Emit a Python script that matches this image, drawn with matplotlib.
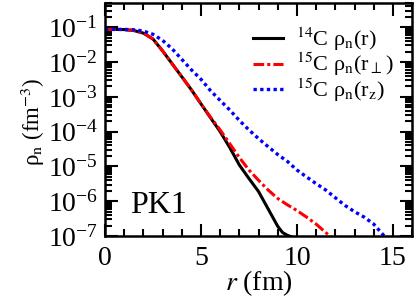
import numpy as np
import matplotlib
matplotlib.use("Agg")
from matplotlib import pyplot as plt
from matplotlib.ticker import LogLocator, MultipleLocator, NullFormatter

plt.rcParams['font.family'] = ['Liberation Serif', 'DejaVu Serif']
plt.rcParams['mathtext.fontset'] = 'stix'

# 14C rho_n(r)
r_c14 = [0, 0.5, 1, 1.5, 2, 2.5, 3, 3.5, 4, 4.5, 5, 5.5, 6, 6.5, 7, 7.5,
         8, 8.5, 9, 9.25, 9.5, 9.75]
rho_c14 = [0.087, 0.087, 0.086, 0.081, 0.068, 0.046, 0.021, 8.9e-3, 3.8e-3,
           1.6e-3, 6.3e-4, 2.5e-4, 1.0e-4, 3.5e-5, 1.1e-5, 4.5e-6, 1.9e-6,
           6.0e-7, 1.9e-7, 1.26e-7, 1.05e-7, 9.3e-8]

# 15C rho_n(r_perp)
r_perp = [0, 0.5, 1, 1.5, 2, 2.5, 3, 3.5, 4, 4.5, 5, 5.5, 6, 6.5, 7, 7.5,
          8, 8.5, 9, 9.5, 10, 10.5, 11, 11.5, 12]
rho_perp = [0.087, 0.087, 0.086, 0.081, 0.068, 0.046, 0.021, 8.9e-3, 3.8e-3,
            1.6e-3, 6.3e-4, 2.6e-4, 1.12e-4, 4.5e-5, 1.8e-5, 7.9e-6, 4.0e-6,
            2.1e-6, 1.2e-6, 7.9e-7, 5.4e-7, 3.5e-7, 2.2e-7, 1.26e-7, 7.1e-8]

# 15C rho_n(r_z)
r_z = [0, 0.5, 1, 1.5, 2, 2.5, 3, 3.5, 4, 4.5, 5, 5.5, 6, 6.5, 7, 7.5, 8,
       8.5, 9, 9.5, 10, 10.5, 11, 11.5, 12, 12.5, 13, 13.5, 14, 14.5, 15]
rho_z = [0.087, 0.087, 0.087, 0.085, 0.078, 0.063, 0.042, 0.024, 0.012,
         6.0e-3, 3.2e-3, 1.5e-3, 7.9e-4, 4.2e-4, 2.1e-4, 1.12e-4, 6.3e-5,
         3.7e-5, 2.2e-5, 1.4e-5, 7.9e-6, 5.0e-6, 3.2e-6, 2.1e-6, 1.26e-6,
         7.6e-7, 5.0e-7, 3.5e-7, 2.2e-7, 1.07e-7, 5.0e-8]

labels = [r"$^{14}$C ρ$_{\rm n}$(r)",
          r"$^{15}$C ρ$_{\rm n}$(r$_{\perp}$)",
          r"$^{15}$C ρ$_{\rm n}$(r$_{\rm z}$)"]

fig = plt.figure(figsize=(4.15, 2.98), dpi=100)
ax = fig.add_axes([0.253, 0.208, 0.74, 0.782])

ax.plot(r_c14, rho_c14, color='black', lw=2.2, label=labels[0])
ax.plot(r_perp, rho_perp, color='red', lw=2.2, dashes=(3.5, 1, 1, 1),
        label=labels[1])
ax.plot(r_z, rho_z, color='blue', lw=2.4, dashes=(1, 1), label=labels[2])

ax.set_yscale('log')
ax.set_xlim(0, 16)
ax.set_ylim(1e-7, 0.5)
ax.xaxis.set_major_locator(MultipleLocator(5))
ax.xaxis.set_minor_locator(MultipleLocator(1))
ax.yaxis.set_major_locator(LogLocator(base=10, numticks=20))
ax.yaxis.set_minor_locator(LogLocator(base=10, subs=np.arange(2, 10), numticks=20))
ax.yaxis.set_minor_formatter(NullFormatter())

ax.tick_params(which='both', direction='in', top=True, right=True,
               width=1.5, labelsize=20)
ax.tick_params(which='major', length=9, pad=5)
ax.tick_params(axis='x', which='major', pad=7)
ax.tick_params(which='minor', length=5)
for s in ax.spines.values():
    s.set_linewidth(1.8)

ax.set_xlabel(r"$r$ (fm)", fontsize=20)
ax.xaxis.set_label_coords(0.5, -0.14)
ax.set_ylabel(r"ρ$_{\rm n}$ (fm$^{-3}$)", fontsize=16.5)
ax.yaxis.set_label_coords(-0.19, 0.49)

ax.text(0.081, 0.099, "PK1", transform=ax.transAxes, fontsize=23,
        ha='left', va='baseline')

ax.legend(loc='upper right', frameon=False, fontsize=16, handlelength=1.35,
          handletextpad=0.6, labelspacing=-0.1, borderaxespad=0.3,
          bbox_to_anchor=(0.99, 0.97))

fig.savefig("out.png", dpi=100)
